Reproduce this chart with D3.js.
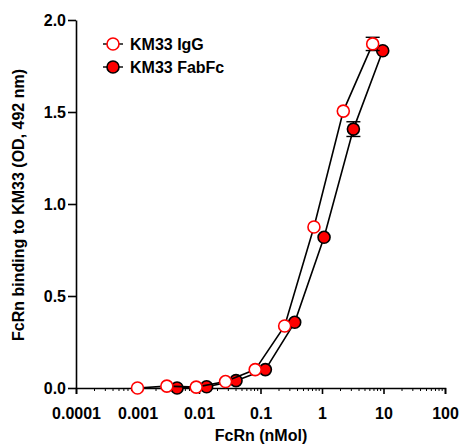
<!DOCTYPE html>
<html>
<head>
<meta charset="utf-8">
<script src="https://cdn.jsdelivr.net/npm/d3@7"></script>
<style>
  body { margin: 0; background: #fff; }
  text { font-family: "Liberation Sans", Arial, sans-serif; font-weight: bold; fill: #000; }
</style>
</head>
<body>
<svg id="canvas" width="462" height="447"></svg>
<script>
/** Data */
const iggConc = [0.001, 0.003, 0.009, 0.027, 0.082, 0.247, 0.74, 2.22, 6.67];
const iggOD   = [0.0, 0.01, 0.005, 0.035, 0.10, 0.337, 0.875, 1.505, 1.87];
const iggErr  = [0, 0, 0, 0, 0, 0, 0, 0, 0.036];

const fabConc = [0.0044, 0.0133, 0.04, 0.12, 0.36, 1.08, 3.24, 9.72];
const fabOD   = [0.0, 0.007, 0.04, 0.10, 0.357, 0.819, 1.407, 1.833];
const fabErr  = [0, 0, 0, 0, 0, 0, 0.04, 0];

const xTicks = [0.0001, 0.001, 0.01, 0.1, 1, 10, 100];
const xTickLabels = ['0.0001', '0.001', '0.01', '0.1', '1', '10', '100'];
const yTicks = [0, 0.5, 1.0, 1.5, 2.0];

let svg = d3.select('#canvas');

/** Scales */
let x = d3.scaleLog().domain([0.0001, 100]).range([76, 445]);
let y = d3.scaleLinear().domain([0, 2]).range([388, 20]);

/** Minor ticks on the log axis */
let minor = [];
for (let d = -4; d < 2; d++) {
    for (let m = 2; m <= 9; m++) minor.push(m * Math.pow(10, d));
}
svg.append('g')
    .selectAll('line')
    .data(minor)
    .enter()
    .append('line')
    .attr('x1', (d) => x(d)).attr('x2', (d) => x(d))
    .attr('y1', 388).attr('y2', 391)
    .attr('stroke', '#000').attr('stroke-width', 1);

/** X axis */
let xAxis = svg.append('g')
    .attr('transform', 'translate(0,388)')
    .call(d3.axisBottom(x).tickValues(xTicks).tickFormat((d, i) => xTickLabels[i]).tickSize(6).tickPadding(14));
xAxis.select('.domain').attr('stroke-width', 1.6);
xAxis.selectAll('.tick line').attr('stroke-width', 1.6);
xAxis.selectAll('text').style('font-size', '16px').style('font-family', '"Liberation Sans", Arial, sans-serif').style('font-weight', 'bold');

/** Y axis */
let yAxis = svg.append('g')
    .attr('transform', 'translate(76,0)')
    .call(d3.axisLeft(y).tickValues(yTicks).tickFormat(d3.format('.1f')).tickSize(8).tickSizeOuter(0).tickPadding(2));
yAxis.select('.domain').attr('stroke-width', 1.6);
yAxis.selectAll('.tick line').attr('stroke-width', 1.6);
yAxis.selectAll('text').style('font-size', '16px').style('font-family', '"Liberation Sans", Arial, sans-serif').style('font-weight', 'bold');

/** Axis titles */
svg.append('text')
    .attr('x', 261).attr('y', 441)
    .attr('text-anchor', 'middle')
    .style('font-size', '16px')
    .text('FcRn (nMol)');

svg.append('text')
    .attr('transform', 'translate(24,205) rotate(-90)')
    .attr('text-anchor', 'middle')
    .style('font-size', '16px')
    .text('FcRn binding to KM33 (OD, 492 nm)');

/** Series drawing */
const drawSeries = (conc, od, err, fill, stroke) => {
    let pts = conc.map((c, i) => ({ c: c, v: od[i], e: err[i] }));

    svg.append('path')
        .datum(pts)
        .attr('fill', 'none')
        .attr('stroke', '#000')
        .attr('stroke-width', 1.6)
        .attr('d', d3.line().x((d) => x(d.c)).y((d) => y(d.v)));

    let eb = svg.append('g').selectAll('g')
        .data(pts.filter((d) => d.e > 0))
        .enter()
        .append('g');
    eb.append('line')
        .attr('x1', (d) => x(d.c)).attr('x2', (d) => x(d.c))
        .attr('y1', (d) => y(d.v + d.e)).attr('y2', (d) => y(d.v - d.e))
        .attr('stroke', '#000').attr('stroke-width', 1.4);
    [1, -1].forEach((s) => {
        eb.append('line')
            .attr('x1', (d) => x(d.c) - 7).attr('x2', (d) => x(d.c) + 7)
            .attr('y1', (d) => y(d.v + s * d.e)).attr('y2', (d) => y(d.v + s * d.e))
            .attr('stroke', '#000').attr('stroke-width', 1.4);
    });

    svg.append('g').selectAll('circle')
        .data(pts)
        .enter()
        .append('circle')
        .attr('cx', (d) => x(d.c))
        .attr('cy', (d) => y(d.v))
        .attr('r', 6)
        .attr('fill', fill)
        .attr('stroke', stroke)
        .attr('stroke-width', 1.6);
};

drawSeries(fabConc, fabOD, fabErr, '#ff0000', '#000');
drawSeries(iggConc, iggOD, iggErr, '#fff', '#ff0000');

/** Legend */
const legendItems = [
    { name: 'KM33 IgG', fill: '#fff', stroke: '#ff0000', ly: 44 },
    { name: 'KM33 FabFc', fill: '#ff0000', stroke: '#000', ly: 67 }
];
let legend = svg.append('g').selectAll('g')
    .data(legendItems)
    .enter()
    .append('g')
    .attr('transform', (d) => `translate(113,${d.ly})`);
legend.append('line')
    .attr('x1', -10).attr('x2', 10)
    .attr('stroke', '#000').attr('stroke-width', 1.4);
legend.append('circle')
    .attr('r', 6)
    .attr('fill', (d) => d.fill)
    .attr('stroke', (d) => d.stroke)
    .attr('stroke-width', 1.6);
legend.append('text')
    .attr('x', 17).attr('y', 6)
    .style('font-size', '16px')
    .text((d) => d.name);
</script>
</body>
</html>
